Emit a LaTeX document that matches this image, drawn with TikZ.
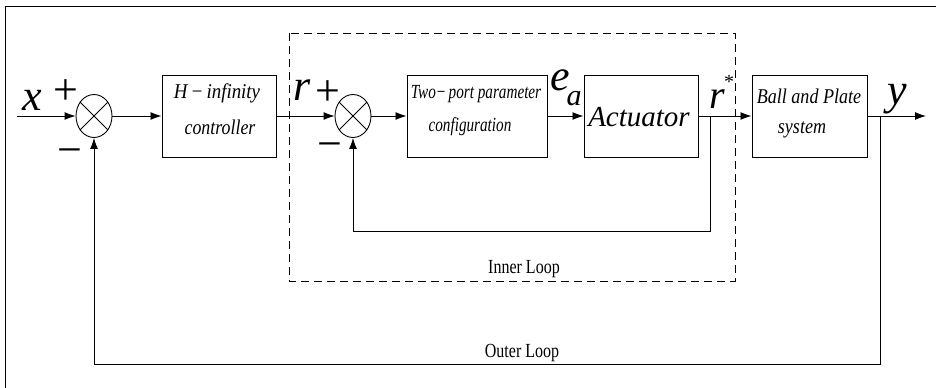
\documentclass[tikz,border=0pt]{standalone}
\usepackage{fontspec}
\setmainfont{Liberation Serif}
\usetikzlibrary{arrows.meta,shapes.geometric}

\begin{document}
\begin{tikzpicture}[x=1pt,y=-1pt,
  blk/.style={draw,line width=1pt,minimum width=114pt,minimum height=82pt,inner sep=0pt},
  sumj/.style={draw,ellipse,line width=0.9pt,minimum width=36pt,minimum height=43pt,inner sep=0pt},
  txt/.style={inner sep=0pt,anchor=base},
  sig/.style={txt,font=\fontsize{44}{44}\selectfont\itshape},
  sgn/.style={txt,font=\fontsize{44}{44}\selectfont},
  boxt/.style={txt,font=\fontsize{21}{21}\selectfont\itshape},
  loopt/.style={txt,font=\fontsize{20}{20}\selectfont},
  wire/.style={line width=0.9pt},
  arr/.style={wire,-{Latex[length=11pt,width=8pt]}}]
\useasboundingbox (0,0) rectangle (938,388);

% frame
\draw[line width=1pt] (5,388) -- (5,6) -- (936,6);

% inner loop region
\draw[line width=1pt,dash pattern=on 8pt off 5pt] (289,33) rectangle (735,281);

% summing junctions
\node[sumj] (s1) at (94,116) {};
\node[sumj] (s2) at (353,116) {};
\foreach \s in {s1,s2}{
  \draw[wire] (\s.45) -- (\s.225);
  \draw[wire] (\s.135) -- (\s.315);
}

% blocks
\node[blk] (hinf) at (219,116) {};
\node[blk,minimum width=140pt] (tp) at (477,116) {};
\node[blk] (act) at (641,116) {};
\node[blk,minimum width=115pt] (bp) at (809.5,116) {};

% block texts
\node[boxt] (h1) at (217,98) {\scalebox{0.9}[1]{H\,−\,infinity}};
\node[boxt] (h2) at (220,134) {\scalebox{0.85}[1]{controller}};
\node[boxt,font=\fontsize{20}{20}\selectfont\itshape] (t1) at (476,98) {\scalebox{0.76}[1]{Two−\,port parameter}};
\node[boxt,font=\fontsize{20}{20}\selectfont\itshape] (t2) at (470,131) {\scalebox{0.76}[1]{configuration}};
\node[txt,font=\fontsize{29}{29}\selectfont\itshape] (a1) at (639,126) {Actuator};
\node[boxt,font=\fontsize{21}{21}\selectfont\itshape] (b1) at (809,103) {\scalebox{0.86}[1]{Ball and Plate}};
\node[boxt,font=\fontsize{21}{21}\selectfont\itshape] (b2) at (802,133) {\scalebox{0.86}[1]{system}};

% signal labels
\node[sig] (lx) at (32,110) {x};
\node[sgn] (p1) at (66,104) {+};
\node[sgn] (m1) at (70,164) {−};
\node[sig] (lr) at (302,100) {r};
\node[sgn] (p2) at (328,105) {+};
\node[sgn] (m2) at (330,158) {−};
\node[sig] (le) at (560,90) {e};
\node[txt,font=\fontsize{30}{30}\selectfont\itshape] (la) at (574,105) {a};
\node[sig,font=\fontsize{40}{40}\selectfont\itshape] (lrs) at (717,108) {r};
\node[txt,font=\fontsize{20}{20}\selectfont] (star) at (729,88) {*};
\node[sig] (ly) at (897,104) {y};

% loop labels
\node[loopt] (il) at (524,273) {\scalebox{0.8}[1]{Inner Loop}};
\node[loopt] (ol) at (522,357) {\scalebox{0.8}[1]{Outer Loop}};

% forward path
\coordinate (xin) at (17,116);
\coordinate (yout) at (926,116);
\coordinate (bi) at (710,116);
\coordinate (bo) at (880,116);
\draw[arr] (xin) -- (s1.west);
\draw[arr] (s1.east) -- (hinf.west);
\draw[arr] (hinf.east) -- (s2.west);
\draw[arr] (s2.east) -- (tp.west);
\draw[arr] (tp.east) -- (act.west);
\draw[arr] (act.east) -- (bp.west);
\draw[arr] (bp.east) -- (yout);

% feedback loops
\draw[arr] (bi) -- (710,231) -| (s2.south);
\draw[arr] (bo) -- (880,364) -| (s1.south);
\end{tikzpicture}
\end{document}
